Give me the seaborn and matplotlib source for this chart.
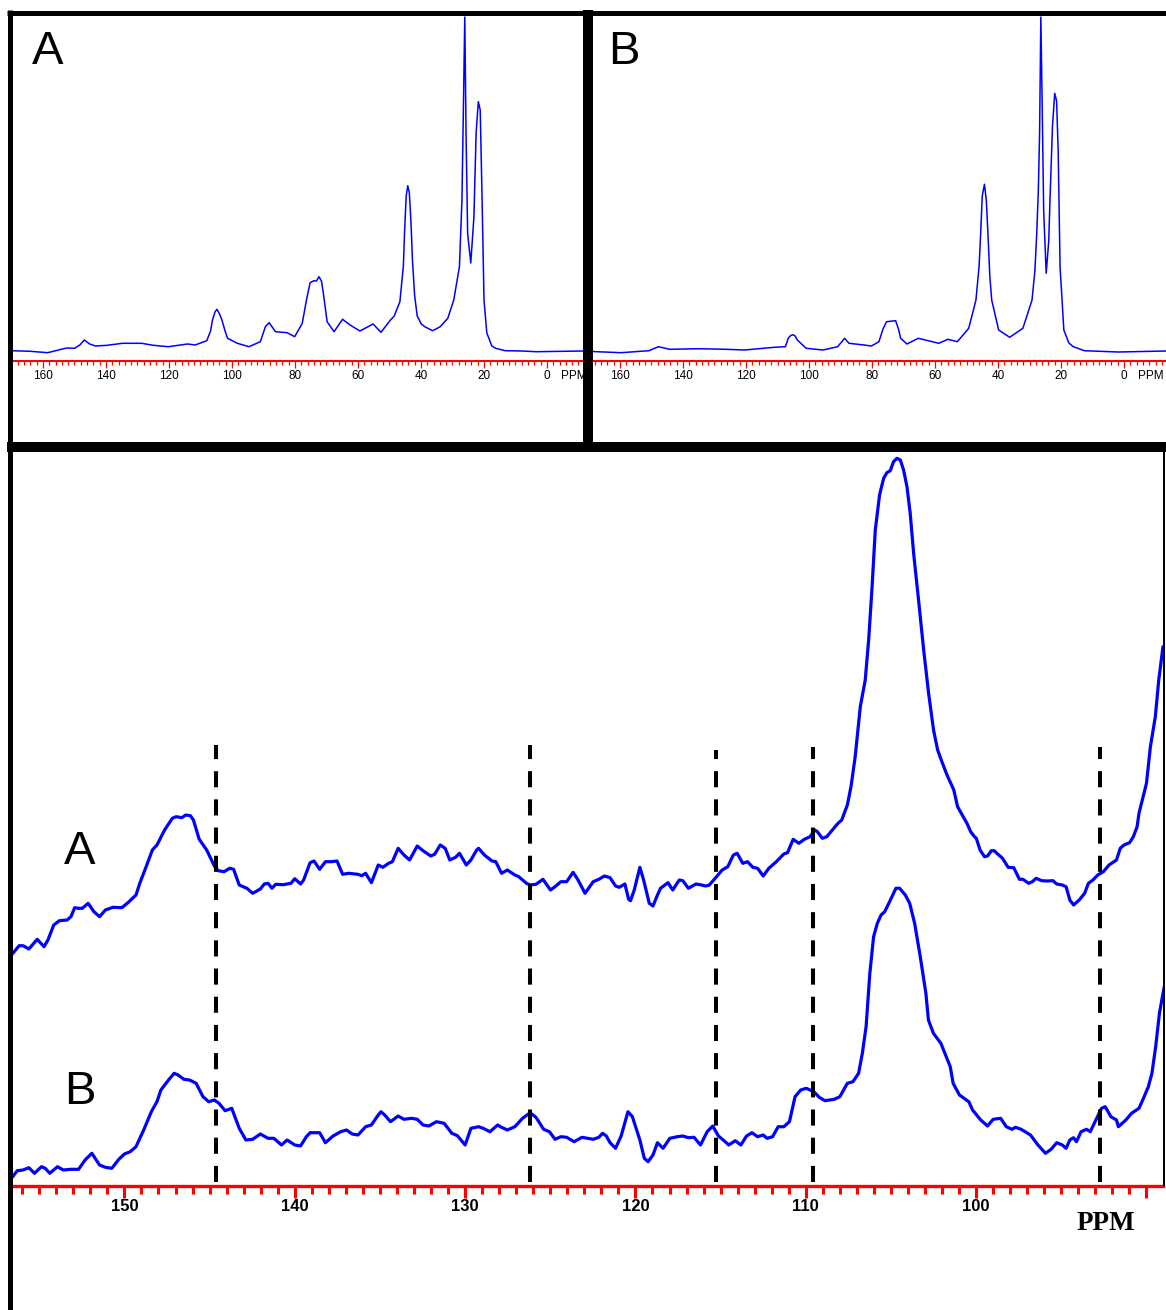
import numpy as np
import pandas as pd
import matplotlib
matplotlib.use("Agg")
import matplotlib.pyplot as plt
import seaborn as sns
from matplotlib.lines import Line2D
from matplotlib.ticker import FixedLocator, FixedFormatter, MultipleLocator

# ---------------- data ----------------
# Full spectrum A (top-left panel): chemical shift (ppm) and intensity
topA_ppm = [170.0, 164.0, 158.5, 154.2, 152.4, 150.0, 148.3, 146.9, 145.2, 143.3,
            139.6, 134.8, 128.7, 125.0, 120.2, 114.1, 111.7, 108.0, 106.8, 106.2,
            105.4, 104.8, 104.1, 103.2, 102.2, 101.4, 98.3, 94.6, 91.0, 89.4,
            88.2, 86.2, 82.5, 80.1, 77.7, 76.3, 75.2, 74.0, 73.2, 72.4,
            71.6, 71.0, 69.8, 67.6, 64.9, 62.5, 59.4, 55.2, 52.7, 49.7,
            48.5, 46.7, 45.6, 45.2, 44.7, 44.2, 43.7, 43.2, 42.7, 42.0,
            41.2, 39.9, 38.8, 36.3, 33.9, 31.5, 29.6, 27.8, 27.0, 26.5,
            26.1, 25.7, 25.2, 24.2, 23.2, 22.5, 21.8, 21.2, 20.6, 20.0,
            19.1, 17.5, 16.3, 13.3, 8.0, 3.5, -11.5]
topA_int = [0.3, -0.3, -1.7, 1.7, 3.0, 2.7, 6.0, 11.0, 7.0, 5.0,
            5.7, 7.7, 7.7, 5.7, 4.3, 7.0, 6.0, 10.3, 20.0, 31.0,
            39.0, 41.7, 38.0, 31.0, 20.0, 12.7, 7.7, 4.3, 9.3, 24.3,
            28.3, 19.3, 18.3, 14.3, 27.7, 52.0, 68.3, 70.3, 70.0, 74.3,
            70.0, 57.7, 29.3, 19.3, 31.7, 26.0, 20.0, 27.0, 18.7, 31.0,
            35.0, 49.3, 85.0, 120.0, 155.0, 165.3, 158.0, 130.0, 90.0, 55.0,
            35.0, 27.0, 24.3, 20.3, 24.3, 32.7, 51.0, 84.3, 151.0, 251.0,
            334.0, 218.0, 118.0, 88.0, 134.0, 218.0, 249.3, 241.0, 151.0, 51.0,
            18.0, 5.0, 2.7, 0.3, 0.0, -0.7, 0.0]

# Full spectrum B (top-right panel)
topB_ppm = [172.7, 159.7, 150.8, 147.8, 144.2, 134.7, 126.4, 120.5, 111.0, 107.5,
            106.6, 105.8, 105.1, 104.4, 103.7, 100.9, 95.6, 90.9, 88.7, 87.3,
            82.5, 80.2, 77.8, 76.5, 75.4, 72.5, 71.6, 70.9, 68.9, 65.3,
            58.8, 55.9, 52.9, 49.3, 47.0, 46.0, 45.5, 45.0, 44.3, 43.7,
            43.2, 42.6, 42.0, 39.8, 36.3, 32.1, 29.2, 28.3, 27.7, 27.2,
            26.8, 26.4, 26.0, 25.5, 24.7, 23.9, 23.5, 22.7, 22.0, 21.4,
            20.9, 20.3, 19.1, 17.5, 16.1, 12.6, 1.9, -13.5]
topB_int = [0.0, -1.7, 0.3, 4.3, 1.7, 2.3, 1.7, 1.0, 3.7, 4.3,
            12.7, 15.5, 16.3, 15.0, 11.0, 2.7, 1.0, 4.3, 12.7, 7.7,
            6.0, 5.0, 9.3, 22.0, 29.3, 30.3, 22.0, 12.7, 7.0, 12.7,
            7.7, 11.7, 9.3, 22.7, 51.0, 85.0, 117.7, 155.0, 166.7, 150.0,
            117.7, 75.0, 51.0, 21.0, 13.7, 22.7, 51.0, 80.0, 117.7, 160.0,
            217.7, 334.0, 250.0, 140.0, 77.7, 110.0, 151.0, 225.0, 257.7, 250.0,
            200.0, 84.3, 21.0, 8.0, 4.3, 0.3, -1.0, 0.0]

# Expanded region, trace A (bottom panel, upper trace)
A_ppm = [156.63, 156.18, 155.95, 155.61, 155.12, 154.72, 154.49, 154.15, 153.82, 153.37,
         153.14, 152.92, 152.69, 152.47, 152.13, 151.79, 151.46, 151.12, 150.67, 150.15,
         149.77, 149.32, 149.10, 148.76, 148.36, 148.09, 147.64, 147.19, 146.96, 146.63,
         146.40, 146.13, 145.95, 145.61, 145.17, 144.72, 144.49, 144.15, 143.82, 143.59,
         143.26, 142.81, 142.47, 142.02, 141.79, 141.57, 141.34, 141.12, 140.67, 140.22,
         140.00, 139.66, 139.48, 139.10, 138.87, 138.54, 138.20, 137.86, 137.52, 137.19,
         136.85, 136.29, 136.06, 135.84, 135.50, 135.10, 134.83, 134.49, 134.27, 133.93,
         133.59, 133.26, 132.81, 132.47, 132.02, 131.79, 131.46, 131.17, 130.90, 130.56,
         130.33, 129.93, 129.66, 129.32, 129.21, 128.87, 128.42, 128.20, 127.86, 127.52,
         127.08, 126.85, 126.40, 126.18, 125.84, 125.43, 124.99, 124.72, 124.38, 124.04,
         123.66, 123.37, 122.96, 122.48, 122.15, 121.82, 121.49, 121.17, 120.95, 120.62,
         120.40, 120.29, 120.07, 119.74, 119.52, 119.19, 118.97, 118.75, 118.53, 118.09,
         117.81, 117.43, 117.22, 116.89, 116.45, 116.12, 115.90, 115.68, 115.24, 114.91,
         114.58, 114.25, 114.03, 113.70, 113.42, 113.11, 112.83, 112.50, 112.17, 111.73,
         111.29, 111.07, 110.74, 110.41, 110.08, 109.75, 109.47, 109.32, 109.03, 108.77,
         108.44, 108.11, 107.89, 107.56, 107.34, 107.10, 106.80, 106.51, 106.31, 106.12,
         105.92, 105.67, 105.43, 105.24, 105.04, 104.85, 104.65, 104.45, 104.26, 104.06,
         103.87, 103.67, 103.38, 103.08, 102.79, 102.50, 102.26, 102.01, 101.71, 101.42,
         101.31, 101.09, 100.87, 100.54, 100.32, 100.10, 99.99, 99.77, 99.51, 99.33,
         99.11, 98.94, 98.78, 98.45, 98.12, 97.79, 97.46, 97.25, 96.92, 96.70,
         96.48, 96.15, 95.82, 95.49, 95.27, 94.94, 94.72, 94.50, 94.28, 93.95,
         93.63, 93.41, 93.14, 92.86, 92.53, 92.20, 91.76, 91.54, 91.32, 90.99,
         90.77, 90.55, 90.44, 90.22, 90.00, 89.77, 89.48, 89.28, 89.03]
A_int = [231.0, 240.3, 240.3, 237.0, 246.7, 239.3, 246.0, 261.0, 265.3, 266.0,
         269.3, 278.3, 277.7, 277.7, 282.7, 274.3, 269.3, 276.0, 278.7, 278.3,
         283.7, 291.0, 302.7, 317.7, 336.0, 341.0, 356.0, 367.7, 369.3, 368.3,
         371.0, 370.3, 366.0, 346.7, 336.0, 320.0, 315.3, 314.3, 317.7, 316.7,
         301.0, 297.7, 292.7, 297.0, 302.0, 302.7, 297.7, 301.7, 301.3, 302.7,
         307.3, 302.0, 306.0, 323.3, 325.0, 316.7, 324.3, 324.3, 325.0, 311.7,
         312.7, 311.7, 310.3, 312.7, 303.3, 321.0, 318.7, 322.7, 324.3, 337.7,
         331.0, 326.0, 340.0, 335.3, 330.0, 331.7, 341.0, 337.7, 326.0, 328.7,
         332.7, 321.0, 326.0, 336.0, 337.7, 331.0, 325.0, 324.3, 312.7, 316.0,
         311.0, 309.3, 302.7, 301.0, 301.7, 306.7, 296.0, 299.3, 304.3, 304.3,
         313.7, 306.0, 292.7, 304.3, 306.7, 310.0, 308.3, 300.0, 298.7, 302.0,
         286.7, 285.3, 296.0, 318.7, 306.0, 282.7, 280.0, 289.3, 297.7, 303.3,
         296.0, 306.0, 305.3, 297.7, 302.0, 301.0, 300.0, 300.7, 309.3, 316.0,
         319.3, 331.0, 332.7, 322.7, 324.3, 318.7, 317.7, 310.0, 317.7, 324.3,
         332.0, 333.3, 346.7, 342.7, 346.7, 349.3, 356.0, 354.3, 347.7, 349.3,
         356.0, 362.7, 366.0, 381.0, 400.0, 429.3, 479.3, 506.0, 546.0, 596.0,
         656.0, 691.0, 707.7, 713.3, 715.3, 724.3, 727.7, 726.0, 716.0, 699.3,
         672.7, 632.7, 586.0, 536.0, 492.7, 456.0, 436.0, 424.3, 411.0, 400.0,
         396.0, 379.3, 372.7, 362.7, 354.3, 349.3, 347.7, 336.0, 329.3, 330.0,
         335.3, 335.3, 332.7, 327.7, 318.7, 318.3, 306.7, 306.7, 302.7, 304.3,
         307.7, 305.3, 305.0, 305.3, 302.0, 301.0, 299.3, 286.0, 281.0, 286.0,
         292.7, 302.7, 306.0, 311.0, 314.3, 321.0, 326.0, 337.7, 341.0, 343.3,
         349.3, 359.3, 372.7, 387.7, 402.7, 439.3, 469.3, 506.0, 539.3]

# Expanded region, trace B (bottom panel, lower trace)
B_ppm = [156.63, 156.29, 155.95, 155.61, 155.28, 154.87, 154.65, 154.38, 153.93, 153.59,
         153.14, 152.69, 152.31, 151.91, 151.46, 151.12, 150.74, 150.33, 150.00, 149.66,
         149.32, 148.87, 148.42, 148.09, 147.86, 147.41, 147.08, 146.85, 146.51, 146.18,
         145.79, 145.39, 145.05, 144.72, 144.45, 144.09, 143.70, 143.26, 142.87, 142.47,
         142.02, 141.57, 141.23, 140.78, 140.45, 140.00, 139.66, 139.32, 139.10, 138.54,
         138.20, 137.75, 137.30, 136.96, 136.63, 136.29, 135.84, 135.50, 135.17, 134.94,
         134.72, 134.38, 133.93, 133.59, 133.14, 132.81, 132.47, 132.13, 131.68, 131.23,
         130.78, 130.45, 130.00, 129.66, 129.21, 128.94, 128.54, 128.09, 127.86, 127.52,
         127.08, 126.63, 126.18, 125.84, 125.39, 125.05, 124.72, 124.38, 124.04, 123.60,
         123.14, 122.48, 122.15, 121.93, 121.71, 121.49, 121.17, 120.84, 120.44, 120.18,
         119.74, 119.48, 119.26, 118.97, 118.71, 118.38, 117.98, 117.54, 117.22, 116.89,
         116.56, 116.18, 115.79, 115.46, 115.13, 114.80, 114.52, 114.14, 113.81, 113.48,
         113.16, 112.83, 112.50, 112.28, 111.95, 111.62, 111.29, 110.96, 110.63, 110.30,
         109.97, 109.53, 109.21, 108.88, 108.33, 108.00, 107.56, 107.23, 106.90, 106.68,
         106.46, 106.24, 106.02, 105.80, 105.58, 105.37, 105.08, 104.71, 104.49, 104.16,
         103.90, 103.61, 103.28, 102.95, 102.80, 102.51, 102.07, 101.52, 101.35, 100.98,
         100.43, 100.21, 99.73, 99.33, 99.00, 98.56, 98.23, 97.90, 97.69, 97.36,
         96.81, 96.37, 95.93, 95.60, 95.27, 94.94, 94.72, 94.50, 94.28, 94.11,
         93.84, 93.52, 93.30, 92.97, 92.64, 92.42, 92.09, 91.76, 91.65, 91.21,
         90.88, 90.44, 90.22, 89.89, 89.68, 89.46, 89.24, 88.85]
B_int = [7.7, 15.3, 16.0, 18.3, 12.7, 19.3, 17.7, 12.7, 19.3, 16.0,
         16.7, 16.7, 26.0, 32.7, 21.0, 18.7, 17.7, 26.7, 32.0, 34.3,
         39.3, 56.0, 74.3, 84.3, 96.0, 106.0, 112.7, 111.0, 106.7, 106.0,
         102.7, 89.3, 84.3, 86.0, 82.7, 75.3, 77.7, 57.7, 46.0, 46.7,
         52.0, 47.7, 47.7, 41.0, 46.0, 41.0, 40.0, 49.3, 53.3, 53.3,
         43.3, 50.0, 54.3, 56.0, 52.0, 51.0, 59.3, 61.0, 69.3, 74.3,
         71.0, 64.3, 70.0, 66.7, 67.7, 66.7, 61.0, 60.0, 64.3, 62.7,
         52.7, 50.3, 41.0, 57.7, 59.3, 57.7, 54.3, 61.0, 58.7, 56.0,
         59.3, 67.7, 73.3, 68.7, 56.7, 54.3, 46.7, 49.3, 48.7, 44.3,
         48.7, 46.7, 48.7, 52.7, 50.0, 43.3, 37.7, 50.0, 74.3, 69.3,
         46.0, 27.7, 24.3, 31.0, 43.3, 37.7, 47.7, 49.3, 50.0, 48.3,
         48.7, 41.0, 54.3, 60.0, 50.0, 45.3, 41.0, 45.3, 41.0, 50.0,
         53.3, 49.3, 51.0, 47.7, 49.3, 59.3, 59.3, 64.3, 89.3, 96.0,
         97.7, 94.3, 88.7, 85.3, 86.7, 89.3, 102.7, 104.3, 112.7, 132.7,
         159.3, 212.7, 249.3, 262.7, 271.0, 274.3, 284.3, 297.7, 297.7, 291.0,
         282.7, 262.7, 229.3, 192.7, 166.0, 152.7, 142.7, 119.3, 102.7, 91.0,
         84.3, 76.0, 66.0, 60.0, 66.7, 67.7, 59.3, 56.7, 58.7, 56.7,
         51.0, 41.0, 32.7, 36.7, 43.3, 41.0, 37.7, 46.0, 48.3, 44.3,
         54.3, 56.7, 54.3, 66.0, 77.7, 79.3, 69.3, 66.0, 59.3, 66.0,
         72.7, 77.7, 86.0, 99.3, 112.7, 139.3, 172.7, 209.3]

# reference lines (ppm) and their top heights
dash_ppm = [144.6, 126.2, 115.3, 109.6, 92.7]
dash_top = [441, 441, 436, 439, 439]

top_major = [160, 140, 120, 100, 80, 60, 40, 20, 0]
bot_major = [150, 140, 130, 120, 110, 100, 90]
bot_labels = ["150", "140", "130", "120", "110", "100", ""]

# ---------------- figure ----------------
sns.set_style("white")
plt.rcParams['font.family'] = ['Liberation Sans', 'DejaVu Sans']
plt.rcParams['text.color'] = 'black'

W, H = 1166, 1310
fig = plt.figure(figsize=(W / 100, H / 100), dpi=100)


def rect(x0, y0, x1, y1):
    return [x0 / W, 1 - y1 / H, (x1 - x0) / W, (y1 - y0) / H]


axTL = fig.add_axes(rect(12, 15, 583, 442))
axTR = fig.add_axes(rect(593, 15, 1166, 442))
axB = fig.add_axes(rect(12, 452, 1163, 1310))

RED = (1, 0, 0)
BLUE = (0, 0, 1)

# top panels
for ax, ppm, inten, xl in [(axTL, topA_ppm, topA_int, (169.84, -11.43)),
                           (axTR, topB_ppm, topB_int, (168.57, -13.33))]:
    df = pd.DataFrame({"ppm": ppm, "int": inten})
    sns.lineplot(data=df, x="ppm", y="int", ax=ax, color=BLUE, lw=1.1,
                 estimator=None, sort=False)
    ax.set_xlim(*xl)
    ax.set_ylim(-91, 336)
    ax.set_facecolor("white")
    for s in ["left", "right", "top"]:
        ax.spines[s].set_visible(False)
    ax.spines["bottom"].set_position(("data", -10))
    ax.spines["bottom"].set_color(RED)
    ax.spines["bottom"].set_linewidth(1.5)
    ax.xaxis.set_major_locator(FixedLocator(top_major))
    ax.xaxis.set_major_formatter(FixedFormatter([str(v) for v in top_major]))
    ax.xaxis.set_minor_locator(MultipleLocator(2))
    ax.tick_params(axis="x", which="both", bottom=True, top=False)
    ax.tick_params(axis="x", which="major", direction="out", length=5.2, width=0.9,
                   color=RED, labelsize=8.5, labelcolor="black", pad=1)
    ax.tick_params(axis="x", which="minor", direction="out", length=3.0, width=0.9,
                   color=RED)
    ax.set_yticks([])
    ax.set_xlabel("")
    ax.set_ylabel("")
    ax.text(-4.5, -25, "PPM", fontsize=8.5, ha="left", va="center", color="black",
            clip_on=False)

# bottom panel
dfA = pd.DataFrame({"ppm": A_ppm, "int": A_int})
dfB = pd.DataFrame({"ppm": B_ppm, "int": B_int})
sns.lineplot(data=dfA, x="ppm", y="int", ax=axB, color=BLUE, lw=2.3,
             estimator=None, sort=False)
sns.lineplot(data=dfB, x="ppm", y="int", ax=axB, color=BLUE, lw=2.3,
             estimator=None, sort=False)
axB.vlines(dash_ppm, 4, dash_top, colors="black", lw=2.9,
           linestyles=[(0, (4, 3))])
axB.set_xlim(156.6, 89.03)
axB.set_ylim(-124, 734)
for s in ["left", "right", "top"]:
    axB.spines[s].set_visible(False)
axB.spines["bottom"].set_position(("data", 0))
axB.spines["bottom"].set_color(RED)
axB.spines["bottom"].set_linewidth(2.4)
axB.xaxis.set_major_locator(FixedLocator(bot_major))
axB.xaxis.set_major_formatter(FixedFormatter(bot_labels))
axB.xaxis.set_minor_locator(MultipleLocator(1))
axB.tick_params(axis="x", which="both", bottom=True, top=False)
axB.tick_params(axis="x", which="major", direction="out", length=8.6, width=2.2,
                color=RED, labelsize=12, labelcolor="black", pad=0.5)
for lab in axB.get_xticklabels():
    lab.set_fontweight("bold")
axB.tick_params(axis="x", which="minor", direction="out", length=5.6, width=2.2,
                color=RED)
axB.set_yticks([])
axB.set_xlabel("")
axB.set_ylabel("")

# labels
for (x, y, s) in [(48, 52, "A"), (624, 52, "B"), (80, 852, "A"), (80, 1092, "B")]:
    fig.text(x / W, 1 - y / H, s, fontsize=34, ha="center", va="center",
             color="black")
fig.text(1106 / W, 1 - 1224 / H, "PPM", fontsize=19.5, fontweight="bold",
         family=["Liberation Serif", "DejaVu Serif"], ha="center", va="center",
         color="black")


# frames (black borders)
def frame(x0, y0, x1, y1, lw_px):
    fig.add_artist(Line2D([x0 / W, x1 / W], [1 - y0 / H, 1 - y1 / H],
                          transform=fig.transFigure, color="black",
                          lw=lw_px * 0.72, solid_capstyle="butt", zorder=5))


frame(7, 12.5, 1166, 12.5, 5)
frame(9.5, 10, 9.5, 1310, 5)
frame(588.3, 10, 588.3, 447, 10)
frame(7, 446.7, 1166, 446.7, 10)
frame(1164, 452, 1164, 1186, 2)

fig.savefig("out.png", dpi=100, facecolor="white")
